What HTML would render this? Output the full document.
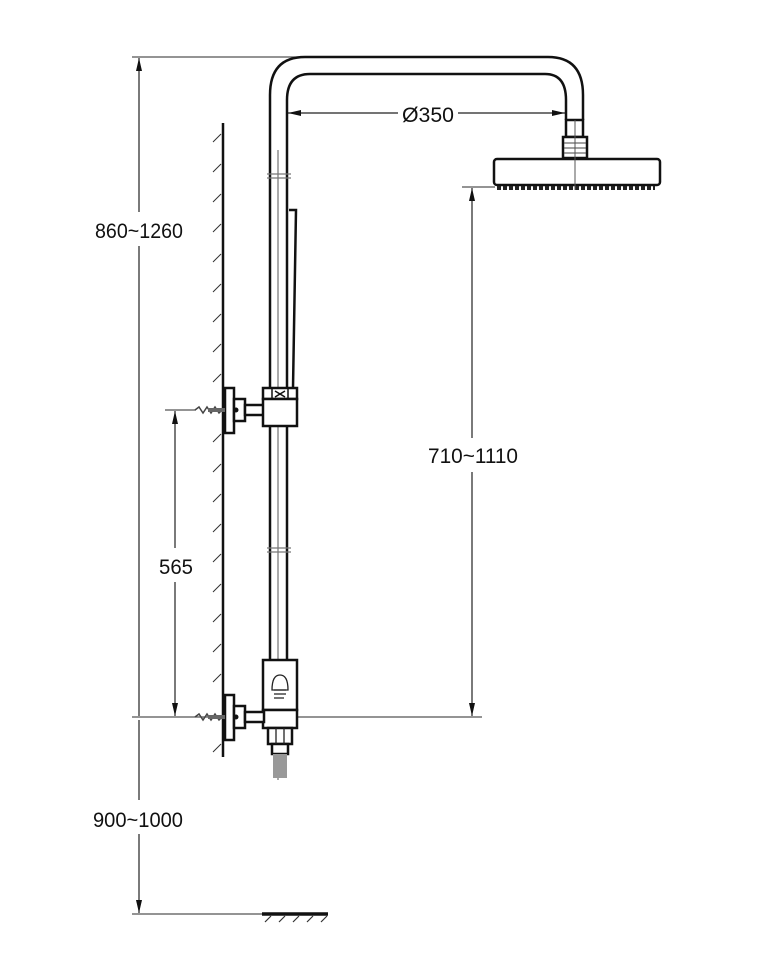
<!DOCTYPE html>
<html><head><meta charset="utf-8"><style>
html,body{margin:0;padding:0;background:#fff}
svg{display:block}
text{font-family:"Liberation Sans",sans-serif;font-size:21px;fill:#111}
</style></head><body>
<svg width="760" height="980" viewBox="0 0 760 980" xmlns="http://www.w3.org/2000/svg">
<defs>
<marker id="a" viewBox="0 0 10 10" refX="10" refY="5" markerWidth="13" markerHeight="6" orient="auto-start-reverse" markerUnits="userSpaceOnUse" preserveAspectRatio="none"><path d="M0,0 L10,5 L0,10 Z" fill="#111"/></marker>
</defs>
<g stroke="#555" stroke-width="1.3" fill="none">
<line x1="132" y1="57" x2="300" y2="57"/>
<line x1="132" y1="717" x2="482" y2="717"/>
<line x1="132" y1="914" x2="262" y2="914"/>
<line x1="165" y1="410" x2="196" y2="410"/>
<line x1="462" y1="187" x2="495" y2="187"/>
</g>
<g stroke="#222" stroke-width="1.2" fill="none">
<line x1="139" y1="58" x2="139" y2="212" marker-start="url(#a)"/>
<line x1="139" y1="246" x2="139" y2="716"/>
<line x1="139" y1="720" x2="139" y2="800"/>
<line x1="139" y1="834" x2="139" y2="913" marker-end="url(#a)"/>
<line x1="175" y1="411" x2="175" y2="548" marker-start="url(#a)"/>
<line x1="175" y1="582" x2="175" y2="716" marker-end="url(#a)"/>
<line x1="472" y1="188" x2="472" y2="438" marker-start="url(#a)"/>
<line x1="472" y1="472" x2="472" y2="716" marker-end="url(#a)"/>
<line x1="288" y1="113" x2="398" y2="113" marker-start="url(#a)"/>
<line x1="458" y1="113" x2="565" y2="113" marker-end="url(#a)"/>
</g>
<text x="95" y="238" textLength="88" lengthAdjust="spacingAndGlyphs">860~1260</text>
<text x="93" y="827" textLength="90" lengthAdjust="spacingAndGlyphs">900~1000</text>
<text x="159" y="574" textLength="34" lengthAdjust="spacingAndGlyphs">565</text>
<text x="428" y="463" textLength="90" lengthAdjust="spacingAndGlyphs">710~1110</text>
<text x="402" y="122" textLength="52" lengthAdjust="spacingAndGlyphs">Ø350</text>
<line x1="262" y1="914" x2="328" y2="914" stroke="#111" stroke-width="3.5"/>
<g stroke="#333" stroke-width="1.2">
<line x1="265" y1="922" x2="271" y2="916"/><line x1="279" y1="922" x2="285" y2="916"/><line x1="293" y1="922" x2="299" y2="916"/><line x1="307" y1="922" x2="313" y2="916"/><line x1="321" y1="922" x2="327" y2="916"/>
</g>
<line x1="223" y1="123" x2="223" y2="757" stroke="#111" stroke-width="2.5"/>
<g stroke="#333" stroke-width="1">
<path d="M213,142 l8,-8 M213,172 l8,-8 M213,202 l8,-8 M213,232 l8,-8 M213,262 l8,-8 M213,292 l8,-8 M213,322 l8,-8 M213,352 l8,-8 M213,382 l8,-8 M213,442 l8,-8 M213,472 l8,-8 M213,502 l8,-8 M213,532 l8,-8 M213,562 l8,-8 M213,592 l8,-8 M213,622 l8,-8 M213,652 l8,-8 M213,682 l8,-8 M213,752 l8,-8"/>
</g>
<g stroke="#111" stroke-width="2.5" fill="none">
<path d="M270,388 V95 Q270,57 305,57 H548 Q583,57 583,95 V120"/>
<path d="M287,388 V100 Q287,74 310,74 H545 Q566,74 566,100 V120"/>
<line x1="270" y1="425" x2="270" y2="660"/>
<line x1="287" y1="425" x2="287" y2="660"/>
</g>
<line x1="278" y1="150" x2="278" y2="780" stroke="#555" stroke-width="1"/>
<g stroke="#777" stroke-width="1.2"><line x1="267" y1="174" x2="291" y2="174"/><line x1="267" y1="178" x2="291" y2="178"/><line x1="267" y1="548" x2="291" y2="548"/><line x1="267" y1="552" x2="291" y2="552"/></g>
<path d="M289,210 H296 L293,388" stroke="#111" stroke-width="2.5" fill="none"/>
<g stroke="#111" stroke-width="2.5" fill="#fff">
<rect x="566" y="120" width="17" height="17"/>
<rect x="563" y="137" width="24" height="21"/>
<rect x="494" y="159" width="166" height="26" rx="3"/>
</g>
<g stroke="#444" stroke-width="1"><line x1="564" y1="143" x2="586" y2="143"/><line x1="564" y1="148" x2="586" y2="148"/><line x1="564" y1="153" x2="586" y2="153"/></g>
<line x1="497" y1="188" x2="655" y2="188" stroke="#222" stroke-width="4" stroke-dasharray="4,2"/>
<line x1="575" y1="120" x2="575" y2="190" stroke="#555" stroke-width="1"/>
<g stroke="#111" stroke-width="2.5" fill="#fff">
<rect x="225" y="388" width="9" height="45"/>
<rect x="234" y="399" width="11" height="22"/>
<rect x="245" y="405" width="19" height="10"/>
<rect x="263" y="388" width="34" height="11"/>
<rect x="263" y="399" width="34" height="27"/>
</g>
<g stroke="#111" stroke-width="1.5" fill="none"><line x1="272" y1="388" x2="272" y2="399"/><line x1="288" y1="388" x2="288" y2="399"/><path d="M275,391 l10,6 M275,397 l10,-6"/></g>
<path d="M195,410 l4,-3 l4,6 l4,-6 l4,6 l4,-6 l4,6 l3,-3 v0" stroke="#444" stroke-width="1.5" fill="none"/>
<line x1="208" y1="410" x2="225" y2="410" stroke="#666" stroke-width="4"/>
<circle cx="236" cy="410" r="2.5" fill="#111"/>
<g stroke="#111" stroke-width="2.5" fill="#fff">
<rect x="263" y="660" width="34" height="50"/>
<rect x="263" y="710" width="34" height="18"/>
<rect x="225" y="695" width="9" height="45"/>
<rect x="234" y="706" width="11" height="22"/>
<rect x="245" y="712" width="19" height="10"/>
<rect x="268" y="728" width="24" height="16"/>
<rect x="272" y="744" width="16" height="10"/>
</g>
<g stroke="#222" stroke-width="1.3" fill="none">
<path d="M272,690 Q272,675 280,675 Q288,675 288,690 Z"/>
<path d="M274,690 H286 M274,694 H286 M274,698 H284"/>
<line x1="276" y1="728" x2="276" y2="744"/><line x1="284" y1="728" x2="284" y2="744"/>
</g>
<rect x="273" y="754" width="14" height="24" fill="#999"/>
<path d="M195,717 l4,-3 l4,6 l4,-6 l4,6 l4,-6 l4,6 l3,-3" stroke="#444" stroke-width="1.5" fill="none"/>
<line x1="208" y1="717" x2="225" y2="717" stroke="#666" stroke-width="4"/>
<circle cx="236" cy="717" r="2.5" fill="#111"/>
</svg>
</body></html>
